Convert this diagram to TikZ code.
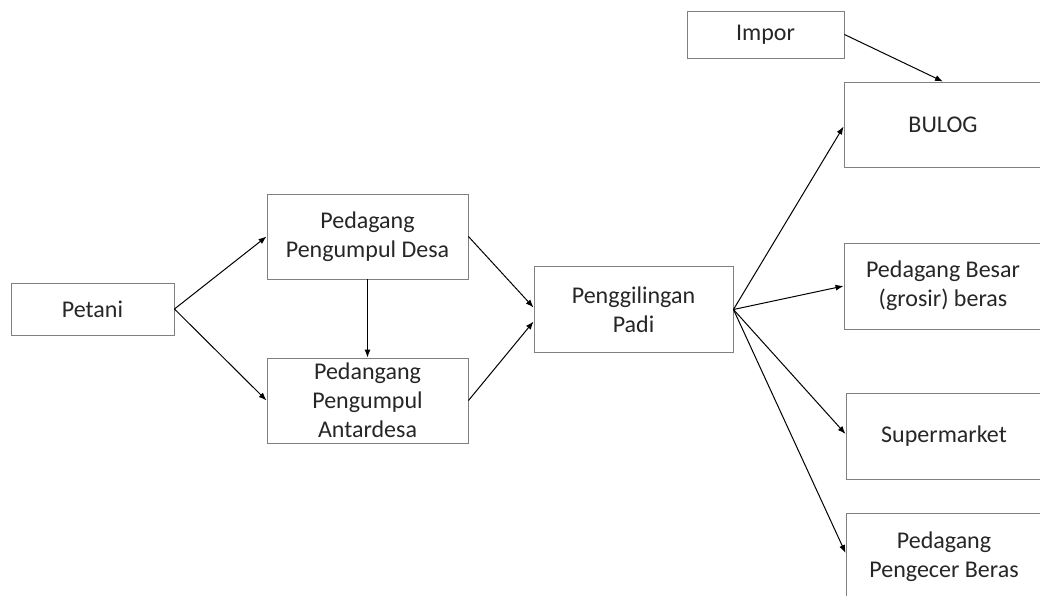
\documentclass[tikz,border=0pt]{standalone}
\usepackage{fontspec}
\setmainfont{Carlito}
\usetikzlibrary{arrows.meta}

\tikzset{
  kotak/.style={draw=black!50, line width=0.9pt, rectangle, align=center, text=black!85,
    font=\fontsize{24}{29}\selectfont, inner sep=0pt},
  panah/.style={-{Latex[length=8pt,width=6pt]}, line width=1pt, black}
}

\begin{document}
\begin{tikzpicture}[x=1pt, y=-1pt]
			%%%%% START %%%%%
			\useasboundingbox (0, 0) rectangle (1040, 595);
			
			\node[kotak, minimum width=163pt, minimum height=52pt] (petani) at (92.5, 309) {Petani};
			
			\node[kotak, minimum width=201pt, minimum height=85pt] (desa) at (367.5, 236.5) {Pedagang\\Pengumpul Desa};
			\node[kotak, minimum width=201pt, minimum height=85pt] (antardesa) at (367.5, 400.5) {Pedangang\\Pengumpul\\Antardesa};
			
			\node[kotak, minimum width=199pt, minimum height=86pt] (padi) at (633.5, 309.5) {Penggilingan\\Padi};
			
			\node[kotak, minimum width=157pt, minimum height=47pt] (impor) at (765.5, 34.5) {Impor};
			\node[kotak, minimum width=198pt, minimum height=85pt] (bulog) at (943, 124.5) {BULOG};
			\node[kotak, minimum width=198pt, minimum height=86pt] (besar) at (943, 286) {Pedagang Besar\\(grosir) beras};
			\node[kotak, minimum width=196pt, minimum height=86pt] (supermarket) at (944, 436) {Supermarket};
			\node[kotak, minimum width=196pt, minimum height=88pt] (pengecer) at (944, 557) {Pedagang\\Pengecer Beras};
			
			\draw[panah] (petani.east) -- (desa.west);
			\draw[panah] (petani.east) -- (antardesa.west);
			\draw[panah] (desa.south) -- (antardesa.north);
			\draw[panah] (desa.east) -- ([yshift=2pt]padi.west);
			\draw[panah] (antardesa.east) -- ([yshift=-12pt]padi.west);
			
			\draw[panah] (padi.east) -- ([yshift=-2pt]bulog.west);
			\draw[panah] (padi.east) -- (besar.west);
			\draw[panah] (padi.east) -- ([yshift=2pt]supermarket.west);
			\draw[panah] (padi.east) -- ([yshift=4pt]pengecer.west);
			\draw[panah] (impor.east) -- (bulog.north);
			%%%%% END %%%%%
		\end{tikzpicture}
\end{document}
